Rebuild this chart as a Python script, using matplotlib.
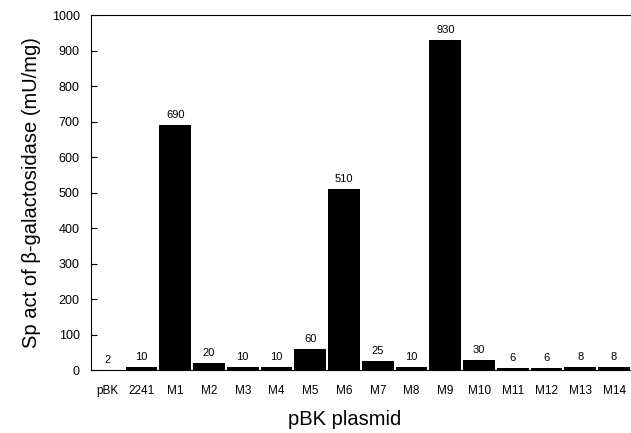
import matplotlib
matplotlib.use('Agg')
import matplotlib.pyplot as plt

plt.rcParams['font.family'] = ['Liberation Sans', 'DejaVu Sans']

# Plasmids and measured activity
plasmids = ['pBK', '2241', 'M1', 'M2', 'M3', 'M4', 'M5', 'M6', 'M7', 'M8',
            'M9', 'M10', 'M11', 'M12', 'M13', 'M14']
activity = [2, 10, 690, 20, 10, 10, 60, 510, 25, 10, 930, 30, 6, 6, 8, 8]

fig = plt.figure(figsize=(6.31, 4.33), dpi=100)
ax = fig.add_axes([0.144, 0.145, 0.856, 0.82])

x = range(len(plasmids))
ax.bar(x, activity, width=0.94, color='black')
for i, v in zip(x, activity):
    ax.text(i, v + 14, str(v), ha='center', va='bottom', fontsize=8)

ax.set_xlim(-0.5, len(plasmids) - 0.5)
ax.set_ylim(0, 1000)
ax.set_yticks(range(0, 1001, 100))
ax.set_xticks(list(x))
ax.set_xticklabels(plasmids)
ax.tick_params(axis='y', direction='in', length=4, labelsize=9, pad=8)
ax.tick_params(axis='x', length=0, labelsize=8.5, pad=11)
ax.spines['right'].set_visible(False)
ax.set_xlabel('pBK plasmid', fontsize=14.5)
ax.xaxis.set_label_coords(0.47, -0.112)
ax.set_ylabel('Sp act of β-galactosidase (mU/mg)', fontsize=14.5, labelpad=8)

fig.savefig('out.png', dpi=100)
